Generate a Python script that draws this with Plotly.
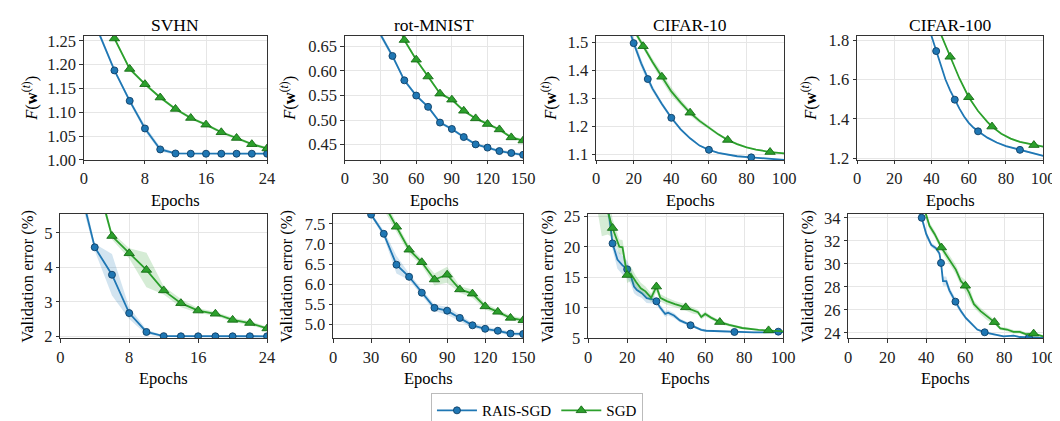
import plotly.graph_objects as go

# ---------------- data ----------------
# SVHN
svhn_epochs = [0, 2, 4, 6, 8, 10, 12, 14, 16, 18, 20, 22, 24]
svhn_rais_loss = [1.60, 1.265, 1.188, 1.124, 1.066, 1.022, 1.0135, 1.013, 1.013, 1.013, 1.013, 1.013, 1.013]
svhn_rais_loss_sd = [0.01, 0.006, 0.004, 0.005, 0.006, 0.005, 0.002, 0.001, 0.001, 0.001, 0.001, 0.001, 0.001]
svhn_sgd_loss = [1.70, 1.36, 1.255, 1.191, 1.159, 1.131, 1.107, 1.088, 1.074, 1.058, 1.046, 1.033, 1.024]
svhn_sgd_loss_sd = [0.003] * 13
svhn_rais_err = [9.0, 6.6, 4.583, 3.787, 2.676, 2.13, 2.009, 2.005, 2.005, 2.005, 2.005, 2.005, 2.005]
svhn_rais_err_sd = [0.3, 0.3, 0.1, 0.6, 0.17, 0.07, 0.02, 0.02, 0.02, 0.02, 0.02, 0.02, 0.02]
svhn_sgd_err = [11.0, 9.0, 6.76, 4.907, 4.407, 3.926, 3.333, 2.963, 2.75, 2.657, 2.48, 2.389, 2.231]
svhn_sgd_err_sd = [0.3, 0.3, 0.2, 0.1, 0.15, 0.5, 0.12, 0.12, 0.07, 0.06, 0.06, 0.06, 0.05]
svhn_rais_mk = [4, 6, 8, 10, 12, 14, 16, 18, 20, 22, 24]
svhn_sgd_mk = [4, 6, 8, 10, 12, 14, 16, 18, 20, 22, 24]

# rot-MNIST
rot_epochs = [0, 10, 20, 30, 40, 50, 60, 70, 80, 90, 100, 110, 120, 130, 140, 150]
rot_rais_loss = [2.0, 1.2, 0.85, 0.674, 0.6306, 0.581, 0.550, 0.527, 0.495, 0.482, 0.4655, 0.4506, 0.444, 0.437, 0.433, 0.4294]
rot_rais_loss_sd = [0.01, 0.01, 0.008, 0.006, 0.005, 0.004, 0.003, 0.003, 0.003, 0.003, 0.003, 0.003, 0.003, 0.003, 0.003, 0.003]
rot_sgd_loss = [2.3, 1.4, 1.0, 0.85, 0.72, 0.663, 0.623, 0.5887, 0.5539, 0.5416, 0.519, 0.5035, 0.492, 0.481, 0.4648, 0.4584]
rot_sgd_loss_sd = [0.003] * 16
rot_rais_err = [30, 15, 9.5, 7.731, 7.253, 6.484, 6.183, 5.787, 5.41, 5.34, 5.16, 4.976, 4.889, 4.84, 4.77, 4.76]
rot_rais_err_sd = [0.3, 0.3, 0.2, 0.05, 0.08, 0.22, 0.08, 0.08, 0.08, 0.1, 0.08, 0.06, 0.05, 0.05, 0.05, 0.05]
rot_sgd_err = [30, 16, 11, 9.0, 8.0, 7.428, 6.857, 6.545, 6.115, 6.234, 5.868, 5.764, 5.446, 5.311, 5.16, 5.1]
rot_sgd_err_sd = [0.3, 0.3, 0.2, 0.15, 0.15, 0.1, 0.1, 0.08, 0.15, 0.2, 0.08, 0.1, 0.08, 0.06, 0.06, 0.05]
rot_rais_loss_mk = [40, 50, 60, 70, 80, 90, 100, 110, 120, 130, 140, 150]
rot_sgd_loss_mk = [50, 60, 70, 80, 90, 100, 110, 120, 130, 140, 150]
rot_rais_err_mk = [30, 40, 50, 60, 70, 80, 90, 100, 110, 120, 130, 140, 150]
rot_sgd_err_mk = [50, 60, 70, 80, 90, 100, 110, 120, 130, 140, 150]

# CIFAR-10
c10_rais_loss_ep = [5, 10, 15, 17.5, 20, 24, 27.5, 30, 35, 40, 45, 50, 55, 60, 65, 70, 75, 82.5, 90, 100]
c10_rais_loss = [2.3, 1.9, 1.60, 1.545, 1.497, 1.425, 1.369, 1.335, 1.28, 1.231, 1.19, 1.158, 1.132, 1.117, 1.106, 1.099, 1.094, 1.090, 1.086, 1.081]
c10_rais_loss_sd = [0.02, 0.02, 0.02, 0.02, 0.018, 0.015, 0.012, 0.01, 0.008, 0.006, 0.005, 0.004, 0.003, 0.002, 0.002, 0.002, 0.002, 0.002, 0.002, 0.002]
c10_rais_loss_mk = [20, 27.5, 40, 60, 82.5]
c10_sgd_loss_ep = [5, 10, 15, 20, 25, 30, 35, 40, 45, 50, 55, 60, 65, 70, 75, 80, 85, 92.5, 100]
c10_sgd_loss = [2.4, 2.0, 1.65, 1.545, 1.486, 1.43, 1.377, 1.325, 1.285, 1.249, 1.22, 1.196, 1.172, 1.152, 1.137, 1.126, 1.118, 1.109, 1.1045]
c10_sgd_loss_sd = [0.01, 0.01, 0.01, 0.01, 0.01, 0.012, 0.015, 0.015, 0.012, 0.01, 0.008, 0.006, 0.005, 0.004, 0.004, 0.003, 0.003, 0.003, 0.003]
c10_sgd_loss_mk = [25, 35, 50, 70, 92.5]

c10_rais_err_ep = [5, 10, 12.5, 15, 17.5, 20, 22, 23.5, 25, 27.5, 30, 33, 35, 37, 39.5, 41, 44, 47, 50, 52.5,
                   55.5, 58, 60.5, 65, 70, 75, 80, 85, 90, 97.5, 100]
c10_rais_err = [40, 27, 20.55, 17.9, 17.0, 16.31, 15.1, 13.5, 12.9, 12.4, 11.6, 11.4, 11.07, 10.0, 9.0, 9.2, 8.75,
                7.95, 7.5, 7.15, 6.8, 6.4, 6.25, 6.2, 6.1, 6.05, 6.0, 6.0, 6.0, 6.1, 6.05]
c10_rais_err_sd = [2, 2, 1.0, 1.5, 1.5, 1.4, 1.3, 1.1, 0.9, 0.8, 0.8, 0.7, 0.6, 0.5, 0.5, 0.4, 0.4, 0.3, 0.3, 0.3,
                   0.25, 0.2, 0.2, 0.15, 0.15, 0.1, 0.1, 0.1, 0.1, 0.1, 0.1]
c10_rais_err_mk = [12.5, 20, 35, 52.5, 75, 97.5]
c10_sgd_err_ep = [5, 7, 10, 12.5, 16, 17.6, 20, 21.8, 24.4, 27, 29.4, 32.3, 35, 37, 40.3, 44.5, 50, 53.8, 56.3, 58,
                  60, 63, 67.5, 72.3, 79, 87.4, 92.5, 100]
c10_sgd_err = [30, 28, 25.8, 23.06, 20.0, 19.9, 15.37, 15.6, 14.3, 13.2, 12.7, 11.65, 13.48, 11.65, 11.1, 10.6,
               10.08, 9.55, 9.3, 8.5, 9.0, 8.4, 7.67, 7.2, 6.7, 6.4, 6.31, 6.15]
c10_sgd_err_sd = [4.5, 6.3, 3.8, 1.5, 1.2, 1.2, 1.3, 1.2, 1.0, 0.9, 0.8, 0.7, 0.9, 0.6, 0.6, 0.5, 0.5, 0.5, 0.4, 0.4,
                  0.4, 0.3, 0.3, 0.25, 0.2, 0.15, 0.15, 0.15]
c10_sgd_err_mk = [12.5, 20, 35, 50, 67.5, 92.5]

# CIFAR-100
c100_rais_loss_ep = [30, 35, 40, 42.5, 45, 47.5, 50, 52.5, 55, 57.5, 60, 62.5, 65, 70, 75, 80, 87.5, 95, 100]
c100_rais_loss = [2.2, 2.0, 1.82, 1.744, 1.67, 1.60, 1.545, 1.4975, 1.452, 1.412, 1.38, 1.356, 1.337, 1.305, 1.28, 1.262, 1.243, 1.224, 1.213]
c100_rais_loss_sd = [0.004] * 19
c100_rais_loss_mk = [42.5, 52.5, 65, 87.5]
c100_sgd_loss_ep = [35, 40, 45, 50, 55, 60, 65, 70, 72.5, 77.5, 82.5, 87.5, 95, 100]
c100_sgd_loss = [2.3, 2.0, 1.83, 1.715, 1.605, 1.510, 1.44, 1.385, 1.361, 1.325, 1.30, 1.283, 1.267, 1.259]
c100_sgd_loss_sd = [0.004] * 14
c100_sgd_loss_mk = [50, 60, 72.5, 95]

c100_rais_err_ep = [30, 35, 37.7, 40, 42.6, 45, 46.8, 47.6, 48.6, 50.3, 51.9, 55, 57.8, 60.3, 62.8, 66.2, 70, 74.7,
                    79.7, 84.8, 88, 92.7, 100]
c100_rais_err = [37, 35.0, 34.0, 32.6, 31.64, 31.36, 30.9, 30.08, 28.5, 28.5, 27.7, 26.72, 25.9, 25.3, 24.9, 24.3,
                 24.06, 23.86, 23.7, 23.77, 23.65, 23.61, 23.58]
c100_rais_err_sd = [0.4, 0.4, 0.3, 0.3, 0.2, 0.2, 0.2, 0.2, 0.4, 0.4, 0.3, 0.3, 0.2, 0.15, 0.1, 0.1, 0.1, 0.08, 0.08,
                    0.08, 0.08, 0.08, 0.08]
c100_rais_err_mk = [37.7, 47.6, 55, 70, 92.7]
c100_sgd_err_ep = [35, 40, 41.7, 44.3, 47.8, 50.2, 52.7, 55.2, 57.8, 60.1, 62, 64.5, 67.9, 71.3, 75, 78, 81.4, 84.8,
                   88, 91, 95.1, 100]
c100_sgd_err = [37, 34.3, 33.3, 32.6, 31.42, 30.8, 30.2, 29.5, 28.5, 28.1, 27.5, 26.5, 25.9, 25.4, 24.94, 24.4,
                24.3, 24.1, 24.1, 23.9, 23.94, 23.7]
c100_sgd_err_sd = [0.4, 0.3, 0.3, 0.3, 0.3, 0.4, 0.4, 0.4, 0.4, 0.5, 0.6, 0.3, 0.3, 0.3, 0.2, 0.15, 0.15, 0.15,
                   0.15, 0.15, 0.1, 0.1]
c100_sgd_err_mk = [47.8, 60.1, 75, 95.1]

titles = ["SVHN", "rot-MNIST", "CIFAR-10", "CIFAR-100"]
series_names = ["RAIS-SGD", "SGD"]

# ---------------- style ----------------
W, H = 1060, 421
BLUE, GREEN = "#1f77b4", "#2ca02c"
BLUE_EDGE, GREEN_EDGE = "#0f3f66", "#156b15"
BLUE_FILL, GREEN_FILL = "rgba(31,119,180,0.20)", "rgba(44,160,44,0.20)"
FONT = "Liberation Serif"
AX = "#333333"
GRID = "#e6e6e6"

# panel boxes in pixels: (left, right, top, bottom)
boxes = [
    (73, 259, 22, 151), (338, 519, 22, 151), (593, 784, 22, 151), (858, 1047, 22, 151),
    (49, 259, 207, 337), (326, 519, 207, 337), (585, 783, 207, 337), (849, 1047, 207, 337),
]
ylabel_x = [18, 280, 545, 809, 15, 278, 543, 807]

panels = [
    dict(xr=[0, 24], xt=[0, 8, 16, 24], yr=[1.0, 1.26], yt=[1.00, 1.05, 1.10, 1.15, 1.20, 1.25], fmt=".2f",
         s=[(svhn_epochs, svhn_rais_loss, svhn_rais_loss_sd, svhn_rais_mk),
            (svhn_epochs, svhn_sgd_loss, svhn_sgd_loss_sd, svhn_sgd_mk)]),
    dict(xr=[0, 150], xt=[0, 30, 60, 90, 120, 150], yr=[0.419, 0.671], yt=[0.45, 0.50, 0.55, 0.60, 0.65], fmt=".2f",
         s=[(rot_epochs, rot_rais_loss, rot_rais_loss_sd, rot_rais_loss_mk),
            (rot_epochs, rot_sgd_loss, rot_sgd_loss_sd, rot_sgd_loss_mk)]),
    dict(xr=[0, 100], xt=[0, 20, 40, 60, 80, 100], yr=[1.081, 1.522], yt=[1.1, 1.2, 1.3, 1.4, 1.5], fmt=".1f",
         s=[(c10_rais_loss_ep, c10_rais_loss, c10_rais_loss_sd, c10_rais_loss_mk),
            (c10_sgd_loss_ep, c10_sgd_loss, c10_sgd_loss_sd, c10_sgd_loss_mk)]),
    dict(xr=[0, 100], xt=[0, 20, 40, 60, 80, 100], yr=[1.192, 1.82], yt=[1.2, 1.4, 1.6, 1.8], fmt=".1f",
         s=[(c100_rais_loss_ep, c100_rais_loss, c100_rais_loss_sd, c100_rais_loss_mk),
            (c100_sgd_loss_ep, c100_sgd_loss, c100_sgd_loss_sd, c100_sgd_loss_mk)]),
    dict(xr=[0, 24], xt=[0, 8, 16, 24], yr=[1.944, 5.556], yt=[2, 3, 4, 5], fmt="d",
         s=[(svhn_epochs, svhn_rais_err, svhn_rais_err_sd, svhn_rais_mk),
            (svhn_epochs, svhn_sgd_err, svhn_sgd_err_sd, svhn_sgd_mk)]),
    dict(xr=[0, 150], xt=[0, 30, 60, 90, 120, 150], yr=[4.65, 7.755], yt=[5.0, 5.5, 6.0, 6.5, 7.0, 7.5], fmt=".1f",
         s=[(rot_epochs, rot_rais_err, rot_rais_err_sd, rot_rais_err_mk),
            (rot_epochs, rot_sgd_err, rot_sgd_err_sd, rot_sgd_err_mk)]),
    dict(xr=[0, 100], xt=[0, 20, 40, 60, 80, 100], yr=[5.0, 25.42], yt=[5, 10, 15, 20, 25], fmt="d",
         s=[(c10_rais_err_ep, c10_rais_err, c10_rais_err_sd, c10_rais_err_mk),
            (c10_sgd_err_ep, c10_sgd_err, c10_sgd_err_sd, c10_sgd_err_mk)]),
    dict(xr=[0, 100], xt=[0, 20, 40, 60, 80, 100], yr=[23.53, 34.36], yt=[24, 26, 28, 30, 32, 34], fmt="d",
         s=[(c100_rais_err_ep, c100_rais_err, c100_rais_err_sd, c100_rais_err_mk),
            (c100_sgd_err_ep, c100_sgd_err, c100_sgd_err_sd, c100_sgd_err_mk)]),
]

styles = [
    dict(color=BLUE, edge=BLUE_EDGE, fill=BLUE_FILL, symbol="circle", size=7),
    dict(color=GREEN, edge=GREEN_EDGE, fill=GREEN_FILL, symbol="triangle-up", size=9),
]

fig = go.Figure()
layout = dict(width=W, height=H, margin=dict(l=0, r=0, t=0, b=0),
              paper_bgcolor="white", plot_bgcolor="white",
              font=dict(family=FONT, size=16, color="black"), annotations=[])

for i, (p, box) in enumerate(zip(panels, boxes)):
    n = i + 1
    xa = "x" if n == 1 else f"x{n}"
    ya = "y" if n == 1 else f"y{n}"
    for (ep, val, sd, mk), st in zip(p["s"], styles):
        hi = [v + s for v, s in zip(val, sd)]
        lo = [v - s for v, s in zip(val, sd)]
        fig.add_trace(go.Scatter(x=list(ep) + list(ep)[::-1], y=hi + lo[::-1], fill="toself",
                                 fillcolor=st["fill"], line=dict(width=0), mode="lines",
                                 hoverinfo="skip", showlegend=False, xaxis=xa, yaxis=ya))
        fig.add_trace(go.Scatter(x=ep, y=val, mode="lines", line=dict(color=st["color"], width=1.8),
                                 showlegend=False, xaxis=xa, yaxis=ya))
        mx = [e for e in mk]
        my = [val[list(ep).index(e)] for e in mk]
        fig.add_trace(go.Scatter(x=mx, y=my, mode="markers",
                                 marker=dict(symbol=st["symbol"], size=st["size"], color=st["color"],
                                             line=dict(color=st["edge"], width=0.9)),
                                 showlegend=False, xaxis=xa, yaxis=ya))
    l, r, t, b = box
    common = dict(showline=True, mirror=True, linecolor=AX, linewidth=1, ticks="outside", ticklen=3.5,
                  tickwidth=1, tickcolor=AX, showgrid=True, gridcolor=GRID, gridwidth=1, zeroline=False,
                  tickfont=dict(family=FONT, size=16.5, color="#222"))
    layout["xaxis" if n == 1 else f"xaxis{n}"] = dict(
        domain=[l / W, r / W], range=p["xr"], tickvals=p["xt"], anchor=ya, **common)
    layout["yaxis" if n == 1 else f"yaxis{n}"] = dict(
        domain=[1 - b / H, 1 - t / H], range=p["yr"], tickvals=p["yt"], tickformat=p["fmt"],
        anchor=xa, **common)
    cx = (l + r) / 2 / W
    # x label
    layout["annotations"].append(dict(text="Epochs", x=cx, y=1 - (b + 42) / H, xref="paper", yref="paper",
                                      showarrow=False, xanchor="center", yanchor="middle",
                                      font=dict(family=FONT, size=16.5, color="black")))
    # y label
    ytxt = "<i>F</i>(<b>w</b><sup>(<i>t</i>)</sup>)" if n <= 4 else "Validation error (%)"
    layout["annotations"].append(dict(text=ytxt, x=ylabel_x[i] / W, y=1 - (t + b) / 2 / H, xref="paper",
                                      yref="paper", showarrow=False, textangle=-90, xanchor="center",
                                      yanchor="middle", font=dict(family=FONT, size=16.5, color="black")))
    if n <= 4:
        layout["annotations"].append(dict(text=titles[i], x=cx, y=1 - 10 / H, xref="paper", yref="paper",
                                          showarrow=False, xanchor="center", yanchor="middle",
                                          font=dict(family=FONT, size=17.5, color="black")))

# legend entries
for name, st in zip(series_names, styles):
    fig.add_trace(go.Scatter(x=[None], y=[None], mode="lines+markers", name=name,
                             line=dict(color=st["color"], width=1.8),
                             marker=dict(symbol=st["symbol"], size=st["size"], color=st["color"],
                                         line=dict(color=st["edge"], width=0.9))))

layout["legend"] = dict(orientation="h", x=533 / W, xanchor="center", y=1 - 394 / H, yanchor="top",
                        bordercolor="#bbbbbb", borderwidth=1, bgcolor="white", itemwidth=40,
                        font=dict(family=FONT, size=15, color="black"))
fig.update_layout(**layout)
fig.write_html("out.html")
